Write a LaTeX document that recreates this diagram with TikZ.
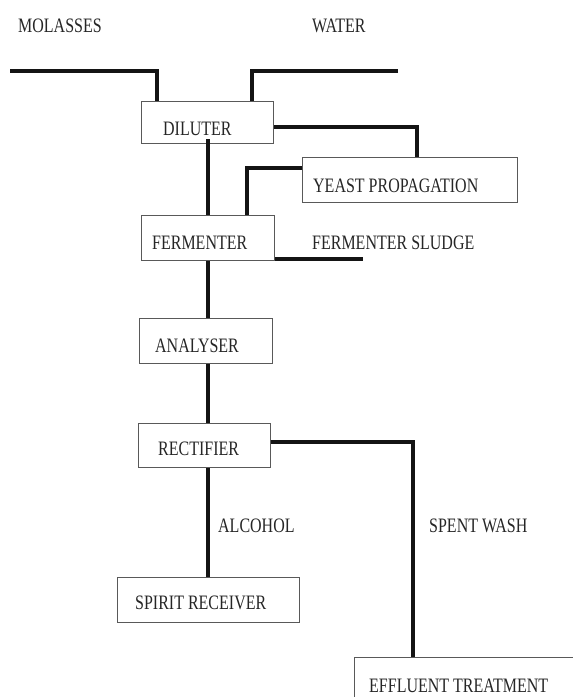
\documentclass[tikz,border=0pt]{standalone}
\usepackage{fontspec}
\setmainfont{Liberation Serif}[FakeStretch=0.78]
\begin{document}
\begin{tikzpicture}[x=1pt,y=-1pt,
  box/.style={draw=black!65,line width=1.4pt,rectangle,inner sep=0pt,anchor=north west},
  lbl/.style={anchor=base west,inner sep=0pt,text=black!85,font=\fontsize{20.5}{24}\selectfont},
  pipe/.style={line width=3.4pt,black!92,line join=miter}]
\useasboundingbox (0,0) rectangle (573,697);
% boxes
\node[box,minimum width=132pt,minimum height=42pt] (dil) at (141,101) {};
\node[box,minimum width=215pt,minimum height=45pt] (yst) at (302,157) {};
\node[box,minimum width=133pt,minimum height=45pt] (fer) at (141,215) {};
\node[box,minimum width=133pt,minimum height=45pt] (ana) at (139,318) {};
\node[box,minimum width=132pt,minimum height=44pt] (rec) at (138,423) {};
\node[box,minimum width=182pt,minimum height=45pt] (spr) at (117,577) {};
\begin{scope}
\clip (0,0) rectangle (573,697);
\node[box,minimum width=260pt,minimum height=80pt] (eff) at (354,657) {};
\end{scope}
% box texts
\node[lbl] (dilT) at (163,135) {DILUTER};
\node[lbl] (ystT) at (313,192) {YEAST PROPAGATION};
\node[lbl] (ferT) at (152,249) {FERMENTER};
\node[lbl] (anaT) at (155,352) {ANALYSER};
\node[lbl] (recT) at (158,455) {RECTIFIER};
\node[lbl] (sprT) at (135,609) {SPIRIT RECEIVER};
\node[lbl] (effT) at (369,692) {EFFLUENT TREATMENT};
% free texts
\node[lbl] (mol) at (18,32) {MOLASSES};
\node[lbl] (wat) at (312,32) {WATER};
\node[lbl] (sld) at (312,249) {FERMENTER SLUDGE};
\node[lbl] (alc) at (218,532) {ALCOHOL};
\node[lbl] (spw) at (429,532) {SPENT WASH};
% coordinates
\coordinate (molS) at (10,71);
\coordinate (watS) at (398,71);
\coordinate (cx) at (208,0);
\coordinate (sldE) at (363,259);
% connectors
\draw[pipe] (molS) -| (dil.north -| 157,0);
\draw[pipe] (watS) -| (dil.north -| 252,0);
\draw[pipe] (dil.east |- 0,127) -| (yst.north -| 417,0);
\draw[pipe] (yst.west |- 0,168) -| (fer.north -| 247,0);
\draw[pipe] ([yshift=5pt]dil.south -| cx) -- (fer.north -| cx);
\draw[pipe] (fer.east |- sldE) -- (sldE);
\draw[pipe] (fer.south -| cx) -- (ana.north -| cx);
\draw[pipe] (ana.south -| cx) -- (rec.north -| cx);
\draw[pipe] (rec.south -| cx) -- (spr.north -| cx);
\draw[pipe] (rec.east |- 0,442) -| (eff.north -| 413,0);
\end{tikzpicture}
\end{document}
